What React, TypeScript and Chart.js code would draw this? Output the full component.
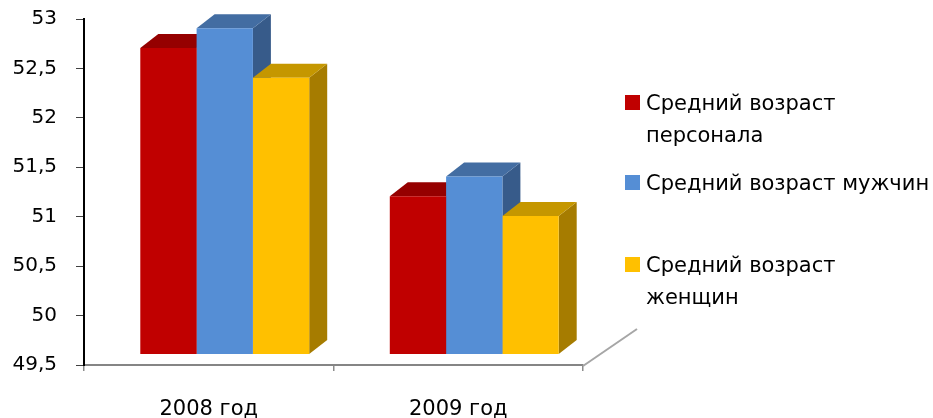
import React, { useEffect, useRef } from "react";
import { Chart, registerables } from "chart.js";

Chart.register(...registerables);

// ---- data ----
const categories = ["2008 год", "2009 год"];
const seriesNames = [
  "Средний возраст персонала",
  "Средний возраст мужчин",
  "Средний возраст женщин",
];
const staffAge = [52.6, 51.1];
const menAge = [52.8, 51.3];
const womenAge = [52.3, 50.9];
const yTicks = [49.5, 50, 50.5, 51, 51.5, 52, 52.5, 53];
const yTickLabels = ["49,5", "50", "50,5", "51", "51,5", "52", "52,5", "53"];
const legendLines = [
  ["Средний возраст", "персонала"],
  ["Средний возраст мужчин"],
  ["Средний возраст", "женщин"],
];

// ---- styles ----
const frontColors = ["#C00000", "#558ED5", "#FFC000"];
const topColors = ["#950000", "#436DA2", "#C59700"];
const sideColors = ["#7A0000", "#375B8A", "#A67C00"];
const FONT = "'DejaVu Sans', sans-serif";

const FRONT_DX = 16;
const FRONT_DY = -10.5;
const DEPTH_DX = 18;
const DEPTH_DY = -14;

const bars3d = {
  id: "bars3d",
  beforeDatasetsDraw(chart: any) {
    const ctx = chart.ctx;
    ctx.save();
    ctx.translate(FRONT_DX, FRONT_DY);
    const n = chart.data.datasets.length;
    for (let j = 0; j < categories.length; j++) {
      for (let i = 0; i < n; i++) {
        const el = chart.getDatasetMeta(i).data[j];
        if (!el) continue;
        const { x, y, base, width } = el.getProps(["x", "y", "base", "width"], true);
        const L = x - width / 2;
        const R = x + width / 2;
        // side face
        ctx.fillStyle = sideColors[i];
        ctx.beginPath();
        ctx.moveTo(R, y);
        ctx.lineTo(R + DEPTH_DX, y + DEPTH_DY);
        ctx.lineTo(R + DEPTH_DX, base + DEPTH_DY);
        ctx.lineTo(R, base);
        ctx.closePath();
        ctx.fill();
        // top face
        ctx.fillStyle = topColors[i];
        ctx.beginPath();
        ctx.moveTo(L, y);
        ctx.lineTo(L + DEPTH_DX, y + DEPTH_DY);
        ctx.lineTo(R + DEPTH_DX, y + DEPTH_DY);
        ctx.lineTo(R, y);
        ctx.closePath();
        ctx.fill();
      }
    }
  },
  afterDatasetsDraw(chart: any) {
    chart.ctx.restore();
  },
  afterDraw(chart: any) {
    const { ctx, chartArea } = chart;
    ctx.save();
    ctx.strokeStyle = "#A6A6A6";
    ctx.lineWidth = 2;
    ctx.beginPath();
    ctx.moveTo(chartArea.right, chartArea.bottom + 1);
    ctx.lineTo(chartArea.right + 54, chartArea.bottom - 36);
    ctx.stroke();
    ctx.restore();
  },
};

export default function App() {
  const ref = useRef<HTMLCanvasElement>(null);

  useEffect(() => {
    const series = [staffAge, menAge, womenAge];
    const chart = new Chart(ref.current as HTMLCanvasElement, {
      type: "bar",
      data: {
        labels: categories,
        datasets: series.map((d, i) => ({
          label: seriesNames[i],
          data: d,
          base: yTicks[0],
          backgroundColor: frontColors[i],
          borderWidth: 0,
          categoryPercentage: 0.677,
          barPercentage: 1,
          clip: false as any,
        })),
      },
      plugins: [bars3d],
      options: {
        responsive: false,
        animation: false,
        events: [],
        layout: { padding: { top: 19, right: 350, left: 0, bottom: 0 } },
        plugins: { legend: { display: false }, tooltip: { enabled: false } },
        scales: {
          x: {
            offset: true,
            grid: {
              offset: true,
              drawOnChartArea: false,
              drawTicks: true,
              tickLength: 6,
              color: "#8C8C8C",
              lineWidth: 1.5,
            },
            border: { color: "#858585", width: 2 },
            ticks: {
              color: "#000",
              font: { family: FONT, size: 21 },
              padding: 26,
            },
            afterFit(scale: any) {
              scale.height = 53;
              scale.paddingLeft = 0;
              scale.paddingRight = 0;
            },
          },
          y: {
            min: 49.5,
            max: 53,
            afterBuildTicks(scale: any) {
              scale.ticks = yTicks.map((v) => ({ value: v }));
            },
            grid: {
              drawOnChartArea: false,
              drawTicks: true,
              tickLength: 8,
              color: "#404040",
            },
            border: { color: "#000", width: 2 },
            ticks: {
              color: "#000",
              font: { family: FONT, size: 20 },
              padding: 19,
              callback: (v: any) => yTickLabels[yTicks.indexOf(Number(v))] ?? "",
            },
            afterFit(scale: any) {
              scale.width = 84;
              scale.paddingTop = 0;
              scale.paddingBottom = 0;
            },
          },
        },
      },
    });
    return () => chart.destroy();
  }, []);

  const legendTops = [87, 167, 249];

  return (
    <div
      style={{
        position: "fixed",
        left: 0,
        top: 0,
        width: 933,
        height: 418,
        background: "#fff",
        overflow: "hidden",
      }}
    >
      <canvas ref={ref} width={933} height={418} style={{ display: "block" }} />
      {legendLines.map((lines, i) => (
        <div
          key={i}
          style={{
            position: "absolute",
            left: 625,
            top: legendTops[i],
            fontFamily: FONT,
            fontSize: 21,
            lineHeight: "32px",
            color: "#000",
            whiteSpace: "nowrap",
          }}
        >
          <span
            style={{
              position: "absolute",
              left: 0,
              top: 8,
              width: 15,
              height: 15,
              background: frontColors[i],
            }}
          />
          <div style={{ marginLeft: 21 }}>
            {lines.map((t, k) => (
              <div key={k}>{t}</div>
            ))}
          </div>
        </div>
      ))}
    </div>
  );
}
